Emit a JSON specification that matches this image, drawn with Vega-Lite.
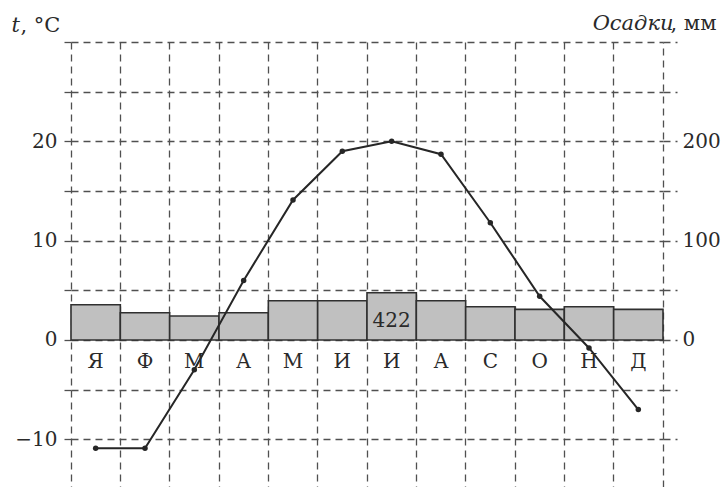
{
  "$schema": "https://vega.github.io/schema/vega-lite/v6.json",
  "width": 592,
  "height": 445,
  "autosize": {"type": "none"},
  "padding": {"left": 71, "top": 42, "right": 62, "bottom": 0},
  "background": "white",
  "config": {
    "view": {"stroke": null},
    "font": "DejaVu Serif",
    "axis": {"labelFont": "DejaVu Serif", "titleFont": "DejaVu Serif", "labelColor": "#2a2a2a", "titleColor": "#2a2a2a", "labelFontSize": 20, "titleFontSize": 21, "titleFontWeight": "normal"},
    "text": {"font": "DejaVu Serif", "fontSize": 20, "color": "#2a2a2a"}
  },
  "data": {"values": [
    {"m": "01", "label": "Я", "temp": -10.9, "precip": 35.5},
    {"m": "02", "label": "Ф", "temp": -10.9, "precip": 27.4},
    {"m": "03", "label": "М", "temp": -3.0, "precip": 24.1},
    {"m": "04", "label": "А", "temp": 6.0, "precip": 27.4},
    {"m": "05", "label": "М", "temp": 14.1, "precip": 39.5},
    {"m": "06", "label": "И", "temp": 19.0, "precip": 39.5},
    {"m": "07", "label": "И", "temp": 20.0, "precip": 47.5},
    {"m": "08", "label": "А", "temp": 18.7, "precip": 39.5},
    {"m": "09", "label": "С", "temp": 11.8, "precip": 33.5},
    {"m": "10", "label": "О", "temp": 4.4, "precip": 30.8},
    {"m": "11", "label": "Н", "temp": -0.8, "precip": 33.5},
    {"m": "12", "label": "Д", "temp": -7.0, "precip": 30.8}
  ]},
  "layer": [
    {
      "mark": {"type": "bar", "fill": "#c0c0c0", "stroke": "#303030", "strokeWidth": 1.6},
      "encoding": {
        "x": {
          "field": "m", "type": "nominal", "sort": null,
          "scale": {"paddingInner": 0, "paddingOuter": 0},
          "axis": {
            "orient": "bottom", "title": ", °C", "labels": false, "ticks": false, "domain": false,
            "grid": true, "bandPosition": 0, "gridDash": [7, 5], "gridColor": "#505050", "gridWidth": 1.3,
            "titleX": -51, "titleY": -456, "titleAngle": 0, "titleAlign": "left", "titleBaseline": "alphabetic"
          }
        },
        "y": {
          "field": "precip", "type": "quantitative",
          "scale": {"domain": [-148, 300], "nice": false, "zero": false},
          "axis": {
            "orient": "right", "values": [-100, -50, 0, 50, 100, 150, 200, 250, 300],
            "labelExpr": "datum.value == 0 || datum.value == 100 || datum.value == 200 ? datum.label : ''",
            "grid": false, "tickSize": 14, "tickDash": [7, 5], "tickColor": "#505050", "tickWidth": 1.3,
            "domain": true, "domainDash": [7, 5], "domainColor": "#505050", "domainWidth": 1.3,
            "labelPadding": 5,
            "title": "Осадки", "titleFontStyle": "italic", "titleAngle": 0, "titleAlign": "right",
            "titleBaseline": "alphabetic", "titleX": 10, "titleY": -13
          }
        },
        "y2": {"datum": 0}
      }
    },
    {
      "mark": {"type": "line", "color": "#262626", "strokeWidth": 2},
      "encoding": {
        "x": {
          "field": "m", "type": "nominal", "sort": null,
          "axis": {
            "orient": "top", "title": ", мм", "labels": false, "ticks": false, "domain": false, "grid": false,
            "titleX": 645, "titleY": -13, "titleAngle": 0, "titleAlign": "right", "titleBaseline": "alphabetic"
          }
        },
        "y": {
          "field": "temp", "type": "quantitative",
          "scale": {"domain": [-14.8, 30], "nice": false, "zero": false},
          "axis": {
            "orient": "left", "values": [-10, -5, 0, 5, 10, 15, 20, 25, 30],
            "labelExpr": "datum.value % 10 == 0 && datum.value < 30 ? datum.label : ''",
            "grid": true, "gridDash": [7, 5], "gridColor": "#505050", "gridWidth": 1.3,
            "tickSize": 8, "tickDash": [7, 5], "tickColor": "#505050", "tickWidth": 1.3,
            "domain": false, "labelPadding": 6,
            "title": "t", "titleFontStyle": "italic", "titleAngle": 0, "titleAlign": "left",
            "titleBaseline": "alphabetic", "titleX": -60, "titleY": -11
          }
        }
      }
    },
    {
      "mark": {"type": "point", "filled": true, "size": 30, "color": "#262626", "opacity": 1},
      "encoding": {
        "x": {"field": "m", "type": "nominal", "sort": null, "axis": null},
        "y": {"field": "temp", "type": "quantitative", "scale": {"domain": [-14.8, 30], "nice": false, "zero": false}, "axis": null}
      }
    },
    {
      "mark": {"type": "text", "baseline": "alphabetic", "align": "center"},
      "encoding": {
        "x": {"field": "m", "type": "nominal", "sort": null, "axis": null},
        "y": {"datum": -2.8, "type": "quantitative", "scale": {"domain": [-14.8, 30], "nice": false, "zero": false}, "axis": null},
        "text": {"field": "label"}
      }
    },
    {
      "data": {"values": [{"m": "07", "total": 422}]},
      "mark": {"type": "text", "baseline": "alphabetic", "align": "center"},
      "encoding": {
        "x": {"field": "m", "type": "nominal", "sort": null, "axis": null},
        "y": {"datum": 1.35, "type": "quantitative", "scale": {"domain": [-14.8, 30], "nice": false, "zero": false}, "axis": null},
        "text": {"field": "total"}
      }
    }
  ],
  "resolve": {"scale": {"y": "independent"}, "axis": {"x": "independent"}}
}
